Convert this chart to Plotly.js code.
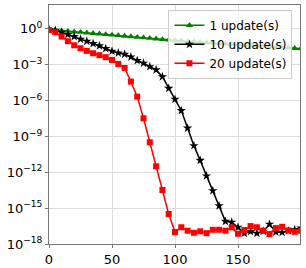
<!DOCTYPE html>
<html>
<head>
<meta charset="utf-8">
<script src="https://cdn.plot.ly/plotly-3.0.1.min.js"></script>
<style>html,body{margin:0;padding:0;background:#fff;}#chart{width:306px;height:268px;}</style>
</head>
<body>
<div id="chart"></div>
<script>
const iterations = [0,5,10,15,20,25,30,35,40,45,50,55,60,65,70,75,80,85,90,95,100,105,110,115,120,125,130,135,140,145,150,155,160,165,170,175,180,185,190,195,200];

const update1 = [0.891,0.794,0.708,0.646,0.575,0.525,0.468,0.427,0.389,0.347,0.316,0.282,0.251,0.229,0.204,0.186,0.166,0.148,0.132,0.120,0.107,0.100,0.0912,0.0851,0.0776,0.0724,0.0661,0.0617,0.0562,0.0525,0.0479,0.0447,0.0417,0.0380,0.0355,0.0331,0.0302,0.0282,0.0263,0.0240,0.0224];

const update10 = [0.891,0.759,0.513,0.339,0.229,0.138,0.0933,0.0589,0.0380,0.0224,0.0135,9.77e-3,7.59e-3,4.47e-3,2.24e-3,1.35e-3,6.92e-4,3.72e-4,1.0e-4,1.07e-5,1.29e-6,1.45e-7,5.0e-9,1.70e-10,1.0e-11,5.0e-13,2.88e-14,1.58e-15,7.9e-17,6.6e-17,2.51e-17,7.9e-18,1.10e-17,7.9e-18,1.17e-17,4.47e-17,1.0e-17,9.3e-18,1.26e-17,1.58e-17,2.14e-17];

const update20 = [0.794,0.525,0.229,0.0933,0.0427,0.0240,0.0145,9.12e-3,6.31e-3,4.27e-3,2.51e-3,1.17e-3,5.37e-4,3.89e-5,2.14e-6,3.31e-8,3.24e-10,3.16e-12,3.31e-14,3.24e-16,1.0e-17,2.51e-17,1.29e-17,8.7e-18,1.15e-17,8.1e-18,1.55e-17,1.55e-17,1.29e-17,2.45e-17,7.2e-18,1.48e-17,3.16e-17,2.51e-17,1.29e-17,6.8e-18,2.14e-17,2.75e-17,1.38e-17,1.05e-17,1.26e-17];

const seriesNames = ["1 update(s)", "10 update(s)", "20 update(s)"];
const xTickVals = [0, 50, 100, 150];
const xTickText = ["0", "50", "100", "150"];
const yTickVals = [1, 1e-3, 1e-6, 1e-9, 1e-12, 1e-15, 1e-18];
const yTickText = ["10<sup>0</sup>", "10<sup>\u22123</sup>", "10<sup>\u22126</sup>", "10<sup>\u22129</sup>", "10<sup>\u221212</sup>", "10<sup>\u221215</sup>", "10<sup>\u221218</sup>"];

const tickFont = {family: "DejaVu Sans", size: 13, color: "#000"};
const legendFont = {family: "DejaVu Sans", size: 12, color: "#000"};

const traces = [
  {x: iterations, y: update1, name: seriesNames[0], mode: "lines+markers", type: "scatter",
   line: {color: "#008000", width: 1.5}, marker: {symbol: "triangle-up", size: 6.5, color: "#008000"}},
  {x: iterations, y: update10, name: seriesNames[1], mode: "lines+markers", type: "scatter",
   line: {color: "#000000", width: 1.5}, marker: {symbol: "star", size: 7, color: "#000000"}},
  {x: iterations, y: update20, name: seriesNames[2], mode: "lines+markers", type: "scatter",
   line: {color: "#ff0000", width: 1.5}, marker: {symbol: "square", size: 6, color: "#ff0000"}}
];

const layout = {
  width: 306, height: 268,
  margin: {l: 49, r: 6, t: 5, b: 24, pad: 0},
  paper_bgcolor: "#fff", plot_bgcolor: "#fff",
  font: tickFont,
  showlegend: true,
  legend: {x: 0.97, y: 0.98, xanchor: "right", yanchor: "top",
    bgcolor: "rgba(255,255,255,0.8)", bordercolor: "#cccccc", borderwidth: 1,
    font: legendFont, tracegroupgap: 0, itemwidth: 30},
  xaxis: {range: [0, 199.2], tickvals: xTickVals, ticktext: xTickText,
    showgrid: true, gridcolor: "#dddddd", gridwidth: 1,
    showline: true, linecolor: "#777", linewidth: 1, mirror: true,
    ticks: "outside", ticklen: 3, tickcolor: "#777", zeroline: false, tickfont: tickFont},
  yaxis: {type: "log", range: [-18, 2], tickvals: yTickVals, ticktext: yTickText,
    showgrid: true, gridcolor: "#dddddd", gridwidth: 1,
    showline: true, linecolor: "#777", linewidth: 1, mirror: true,
    ticks: "outside", ticklen: 3, tickcolor: "#777", zeroline: false, tickfont: tickFont}
};

Plotly.newPlot("chart", traces, layout, {staticPlot: true, displayModeBar: false});
</script>
</body>
</html>
